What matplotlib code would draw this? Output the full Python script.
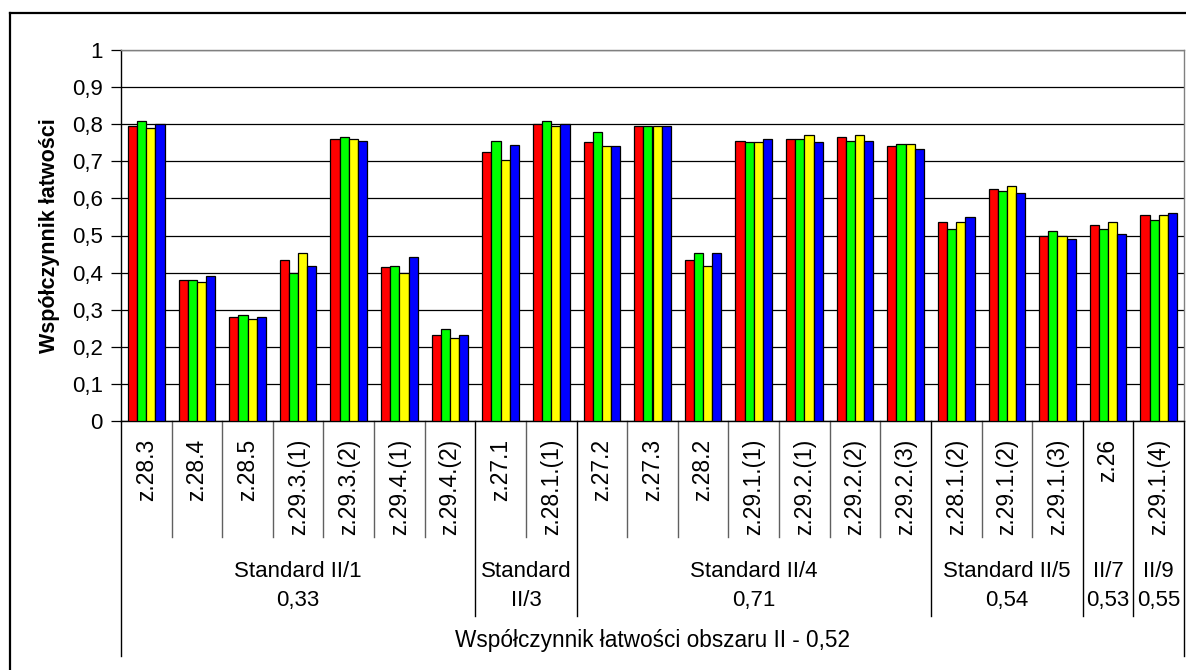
import matplotlib
matplotlib.use("Agg")
import matplotlib.pyplot as plt
import matplotlib.transforms as mtransforms
from matplotlib.lines import Line2D
import numpy as np

plt.rcParams['font.family'] = ['Liberation Sans', 'DejaVu Sans']

categories = ["z.28.3", "z.28.4", "z.28.5", "z.29.3.(1)", "z.29.3.(2)", "z.29.4.(1)", "z.29.4.(2)",
              "z.27.1", "z.28.1.(1)",
              "z.27.2", "z.27.3", "z.28.2", "z.29.1.(1)", "z.29.2.(1)", "z.29.2.(2)", "z.29.2.(3)",
              "z.28.1.(2)", "z.29.1.(2)", "z.29.1.(3)",
              "z.26",
              "z.29.1.(4)"]

series_red = [0.795, 0.381, 0.281, 0.433, 0.761, 0.414, 0.233,
              0.724, 0.800,
              0.752, 0.795, 0.433, 0.756, 0.761, 0.765, 0.742,
              0.537, 0.625, 0.500,
              0.528,
              0.556]
series_green = [0.808, 0.381, 0.285, 0.400, 0.765, 0.419, 0.247,
                0.756, 0.808,
                0.780, 0.795, 0.452, 0.752, 0.761, 0.756, 0.747,
                0.518, 0.620, 0.513,
                0.518,
                0.542]
series_yellow = [0.789, 0.376, 0.276, 0.452, 0.761, 0.400, 0.224,
                 0.704, 0.794,
                 0.742, 0.795, 0.419, 0.752, 0.771, 0.771, 0.747,
                 0.537, 0.634, 0.500,
                 0.537,
                 0.556]
series_blue = [0.800, 0.390, 0.281, 0.419, 0.756, 0.443, 0.233,
               0.743, 0.800,
               0.742, 0.795, 0.452, 0.761, 0.752, 0.756, 0.733,
               0.551, 0.615, 0.490,
               0.505,
               0.560]

group_labels = ["Standard II/1\n0,33", "Standard\nII/3", "Standard II/4\n0,71",
                "Standard II/5\n0,54", "II/7\n0,53", "II/9\n0,55"]
group_sizes = [7, 2, 7, 3, 1, 1]

y_ticks = [0, 0.1, 0.2, 0.3, 0.4, 0.5, 0.6, 0.7, 0.8, 0.9, 1.0]
y_tick_labels = ["0", "0,1", "0,2", "0,3", "0,4", "0,5", "0,6", "0,7", "0,8", "0,9", "1"]

y_label = "Współczynnik łatwości"
bottom_label = "Współczynnik łatwości obszaru II - 0,52"

series = [series_red, series_green, series_yellow, series_blue]
colors = ["#FF0000", "#00FF00", "#FFFF00", "#0000FF"]

W, H = 1186, 670
fig = plt.figure(figsize=(W / 100, H / 100), dpi=100)
fig.patch.set_facecolor("white")

ax_left, ax_right, ax_top, ax_bottom = 121, 1184, 50, 421
ax = fig.add_axes([ax_left / W, 1 - ax_bottom / H, (ax_right - ax_left) / W, (ax_bottom - ax_top) / H])

n = len(categories)
x = np.arange(n)
bw = 0.181
for i, (vals, c) in enumerate(zip(series, colors)):
    ax.bar(x + (i - 1.5) * bw, vals, width=bw, color=c, edgecolor="black", linewidth=0.9, zorder=3)

ax.set_xlim(-0.5, n - 0.5)
ax.set_ylim(0, 1)
ax.set_yticks(y_ticks)
ax.set_yticklabels(y_tick_labels, fontsize=16)
ax.set_xticks([])
ax.yaxis.grid(True, color="black", linewidth=0.9, zorder=0)
ax.set_axisbelow(True)
ax.tick_params(axis="y", direction="out", length=7, width=0.9, pad=6, color="black")
for s in ["top", "right"]:
    ax.spines[s].set_color("#808080")
    ax.spines[s].set_linewidth(1.0)
for s in ["left", "bottom"]:
    ax.spines[s].set_color("black")
    ax.spines[s].set_linewidth(1.0)

fig.text(50 / W, 1 - 235.5 / H, y_label, rotation=90, ha="center", va="center",
         fontsize=15.5, fontweight="bold")

trans = mtransforms.blended_transform_factory(ax.transData, ax.transAxes)
axh = ax_bottom - ax_top


def fy(py):
    return (ax_bottom - py) / axh


# category labels
for i, lab in enumerate(categories):
    ax.text(i, fy(439), lab, rotation=90, ha="center", va="top", fontsize=16.5,
            transform=trans, clip_on=False)

# boundaries
group_bounds = set(np.cumsum(group_sizes)[:-1].tolist())
for b in range(1, n):
    if b in group_bounds:
        y_end = fy(616)
        col = "black"
    else:
        y_end = fy(537)
        col = "#606060"
    ax.plot([b - 0.5, b - 0.5], [0, y_end], color=col, linewidth=1.0, transform=trans, clip_on=False)
for b in [0, n]:
    ax.plot([b - 0.5, b - 0.5], [0, fy(656)], color="black", linewidth=1.0, transform=trans, clip_on=False)

# group labels
start = 0
for lab, sz in zip(group_labels, group_sizes):
    center = start + (sz - 1) / 2
    lines = lab.split("\n")
    for j, line in enumerate(lines):
        ax.text(center, fy(576.7 + 29.3 * j), line, ha="center", va="baseline", fontsize=16,
                transform=trans, clip_on=False)
    start += sz

ax.text((n - 1) / 2, fy(646.7), bottom_label, ha="center", va="baseline", fontsize=16.3,
        transform=trans, clip_on=False)

# outer frame
fig.add_artist(Line2D([10 / W, 1], [1 - 13 / H, 1 - 13 / H], color="black", linewidth=1.6,
                      transform=fig.transFigure))
fig.add_artist(Line2D([10 / W, 10 / W], [0, 1 - 13 / H], color="black", linewidth=1.6,
                      transform=fig.transFigure))

fig.savefig("out.png", dpi=100, facecolor="white")
